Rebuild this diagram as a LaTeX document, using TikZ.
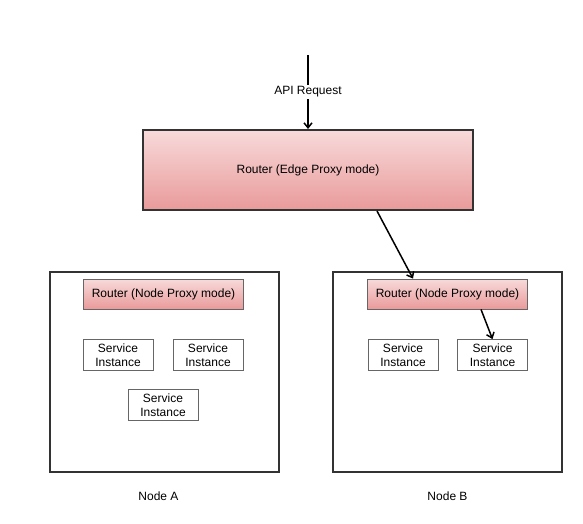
\documentclass[tikz,border=0pt]{standalone}
\usepackage{fontspec}
\setmainfont{Liberation Sans}
\usetikzlibrary{arrows.meta,positioning}
\definecolor{pinktop}{HTML}{F8DADA}
\definecolor{pinkbot}{HTML}{E99A9A}
\definecolor{darkline}{HTML}{333333}
\definecolor{greyline}{HTML}{666666}
\begin{document}
\begin{tikzpicture}[x=1pt, y=-1pt, font=\fontsize{12}{14}\selectfont,
  edgerouter/.style={draw=darkline, line width=2pt, top color=pinktop, bottom color=pinkbot,
    minimum width=330pt, minimum height=80pt, inner sep=0pt},
  noderouter/.style={draw=greyline, line width=0.8pt, top color=pinktop, bottom color=pinkbot,
    minimum width=160pt, minimum height=30pt, inner sep=0pt},
  hostbox/.style={draw=darkline, line width=1.5pt, minimum width=229pt, minimum height=200pt, inner sep=0pt},
  service/.style={draw=greyline, line width=0.8pt, minimum width=70pt, minimum height=31pt,
    inner sep=0pt, align=center, font=\fontsize{12}{14}\selectfont},
  arr/.style={line width=1.5pt, -{Straight Barb[length=5pt,width=8pt,line width=1.5pt]}}]
  \useasboundingbox (0,0) rectangle (583,524);
  % edge proxy
  \coordinate (api) at (308,55);
  \node[edgerouter] (edge) at (308,170) {Router (Edge Proxy mode)};
  % the two hosts
  \node[hostbox] (hostA) at (164.5,372) {};
  \node[hostbox] (hostB) at (447.5,372) {};
  \node (lblA) at (158.5,496) {Node A};
  \node (lblB) at (447.5,496) {Node B};
  % node A
  \node[noderouter] (rA) at (163.5,294) {Router (Node Proxy mode)};
  \node[service] (siA1) at (118,355) {Service\\Instance};
  \node[service] (siA2) at (208,355) {Service\\Instance};
  \node[service] (siA3) at (163,405) {Service\\Instance};
  % node B
  \node[noderouter] (rB) at (447.5,294) {Router (Node Proxy mode)};
  \node[service] (siB1) at (403,355) {Service\\Instance};
  \node[service] (siB2) at (492.5,355) {Service\\Instance};
  % requests
  \draw[arr] (api) -- (api |- edge.north) node[midway, fill=white, inner sep=2pt] {API Request};
  \draw[arr] ([xshift=69pt]edge.south) -- ([xshift=-34.5pt]rB.north);
  \draw[arr] ([xshift=33.5pt]rB.south) -- (siB2.north);
\end{tikzpicture}
\end{document}
